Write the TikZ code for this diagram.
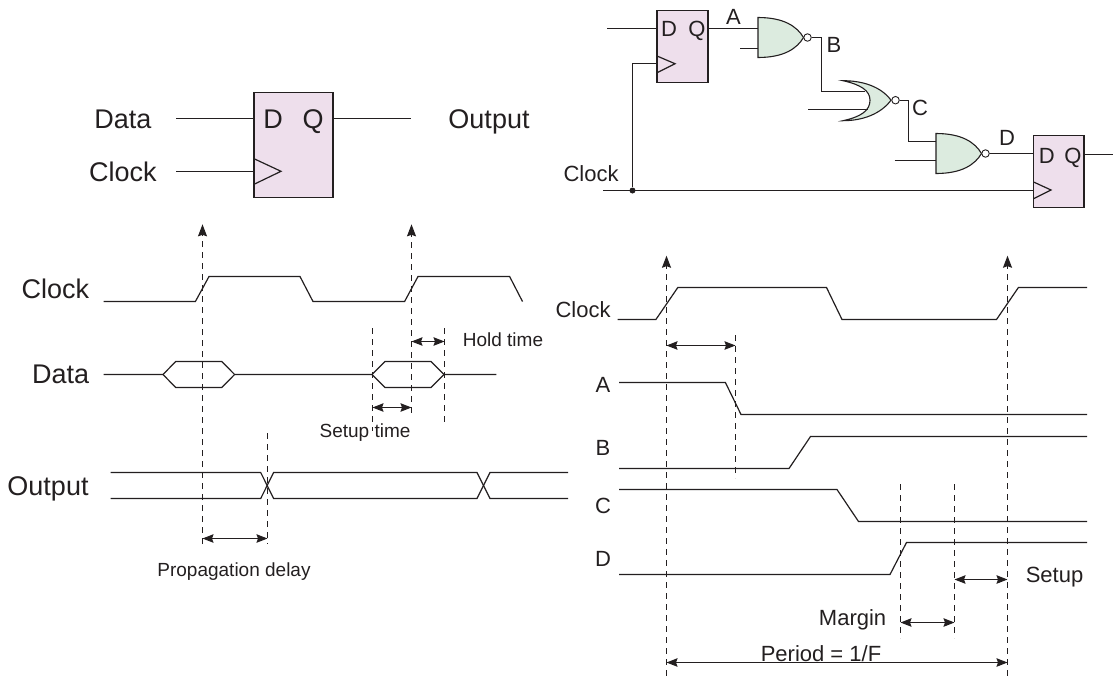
\documentclass[tikz,border=0pt]{standalone}
\usepackage{fontspec}
\setmainfont{Liberation Sans}
\usetikzlibrary{arrows.meta,calc}
\definecolor{ink}{HTML}{231F20}
\definecolor{cff}{HTML}{EEDFEC}
\definecolor{cgate}{HTML}{DCEBDF}
\begin{document}
\begin{tikzpicture}[x=1pt,y=-1pt,
  wire/.style={ink, line width=1.2pt, line join=miter},
  wave/.style={ink, line width=1.2pt, line join=miter},
  guide/.style={ink, line width=1.2pt, dash pattern=on 6pt off 5pt},
  guidetip/.style={guide, -{Stealth[length=12pt,width=9pt,inset=1.5pt]}},
  span/.style={ink, line width=1.2pt, {Stealth[length=11pt,width=8.5pt,inset=1.5pt]}-{Stealth[length=11pt,width=8.5pt,inset=1.5pt]}},
  ff/.style={draw=ink, fill=cff, line width=1.1pt, inner sep=0pt},
  gate/.style={draw=ink, fill=cgate, line width=1.1pt},
  bubble/.style={circle, draw=ink, fill=white, line width=0.9pt, inner sep=0pt, minimum size=7.5pt},
  big/.style={ink, anchor=base, font=\fontsize{27}{27}\selectfont, inner sep=0pt},
  mid/.style={ink, anchor=base, font=\fontsize{22}{22}\selectfont, inner sep=0pt},
  small/.style={ink, anchor=base, font=\fontsize{19}{19}\selectfont, inner sep=0pt},
  nandgate/.pic={
    \draw[gate] (0,0) .. controls (26,0) and (39,9) .. (45.5,20) .. controls (39,31) and (26,40) .. (0,40) -- cycle;
    \node[bubble] (-bub) at (49.5,20) {};
  },
  norgate/.pic={
    \draw[gate] (0,0) .. controls (20,0) and (38,6) .. (48,19.5) .. controls (38,33) and (20,40) .. (0,40) .. controls (18,36) and (27,30) .. (27,19.5) .. controls (27,10) and (18,4) .. (0,0) -- cycle;
    \node[bubble] (-bub) at (52.5,19.5) {};
  }
]
\useasboundingbox (0,0) rectangle (1115,678);

% left flip-flop
\node[ff, minimum width=79pt, minimum height=105pt] (ffl) at (293.5,145.2) {};
\node[big] (ffld) at (273,128) {D};
\node[big] (fflq) at (313,128) {Q};
\draw[wire] (254,158.7) -- (281,171.3) -- (254,184.3);
\node[big] (ldata) at (123,128.5) {Data};
\node[big] (lclock) at (123,181) {Clock};
\node[big] (lout) at (489,128.5) {Output};
\coordinate (ldatain) at (176,118.5);
\coordinate (lclkin) at (176,171.5);
\coordinate (loutend) at (411,118.5);
\draw[wire] (ldatain) -- (ldatain -| ffl.west);
\draw[wire] (lclkin) -- (lclkin -| ffl.west);
\draw[wire] (loutend -| ffl.east) -- (loutend);

% right circuit
\node[ff, minimum width=51pt, minimum height=71.6pt] (ffa) at (682.5,46.5) {};
\node[ff, minimum width=50.4pt, minimum height=71.6pt] (ffb) at (1058.8,171.5) {};
\node[mid] (ffad) at (669,36) {D};
\node[mid] (ffaq) at (697,36) {Q};
\node[mid] (ffbd) at (1046.7,163) {D};
\node[mid] (ffbq) at (1073,163) {Q};
\draw[wire] (657,56) -- (675,63.7) -- (657,72.7);
\draw[wire] (1033.6,182) -- (1051,190) -- (1033.6,198.7);
\pic (nanda) at (758,17.5) {nandgate};
\pic (nora) at (843,80.7) {norgate};
\pic (nandb) at (936,133.5) {nandgate};
\node[mid] (sa) at (733.5,24.5) {A};
\node[mid] (sb) at (834,52) {B};
\node[mid] (sc) at (920,115) {C};
\node[mid] (sd) at (1007,145) {D};
\node[mid] (sclk) at (591,181) {Clock};
\node[circle, fill=ink, inner sep=0pt, minimum size=6pt] (tap) at (632.5,190.5) {};
\coordinate (ain) at (607,28.5);
\coordinate (clkin) at (603,190.5);
\coordinate (qout) at (1113,154.5);
\draw[wire] (ain) -- (ain -| ffa.west);
\draw[wire] (ain -| ffa.east) -- (758,28.5);
\draw[wire] (740,48.5) -- ++(18,0);
\draw[wire] (nanda-bub.east) -- (821.5,37.5) -- (821.5,91.5) -- (865,91.5);
\draw[wire] (808,109.5) -- (868,109.5);
\draw[wire] (nora-bub.east) -- (908.5,100.2) -- (908.5,141.5) -- (936,141.5);
\draw[wire] (894.5,160.5) -- (936,160.5);
\draw[wire] (nandb-bub.east) -- (nandb-bub.east -| ffb.west);
\draw[wire] (qout -| ffb.east) -- (qout);
\draw[wire] (clkin) -- (clkin -| ffb.west);
\draw[wire] (tap) |- (657,63.5);

% left timing
\draw[wave] (103.6,301.5) -- (195.4,301.5) -- (209,276.5) -- (300,276.5) -- (313,301.5) -- (404.6,301.5) -- (418,276.5) -- (509.6,276.5) -- (522.5,301.5);
\draw[wave] (103.6,374.5) -- (163,374.5) -- (175.7,361.5) -- (221.8,361.5) -- (234.6,374.5) -- (372,374.5) -- (385,361.5) -- (431,361.5) -- (444,374.5) -- (496.4,374.5);
\draw[wave] (163,374.5) -- (175.7,387.5) -- (221.8,387.5) -- (234.6,374.5);
\draw[wave] (372,374.5) -- (385,387.5) -- (431,387.5) -- (444,374.5);
\draw[wave] (110.7,472.5) -- (260.7,472.5) -- (273.6,498.5) -- (477,498.5) -- (490,472.5) -- (568,472.5);
\draw[wave] (110.7,498.5) -- (260.7,498.5) -- (273.6,472.5) -- (477,472.5) -- (490,498.5) -- (568,498.5);
\node[big] (tclock) at (55.4,298.5) {Clock};
\node[big] (tdata) at (60.7,383.5) {Data};
\node[big] (toutput) at (48,495) {Output};
\coordinate (e1b) at (202.5,544);
\coordinate (e1t) at (202.5,224.3);
\coordinate (e2b) at (411.5,412.7);
\coordinate (e2t) at (411.5,224.3);
\draw[guidetip] (e1b) -- (e1t);
\draw[guidetip] (e2b) -- (e2t);
\draw[guide] (372.5,328) -- (372.5,431);
\draw[guide] (444.5,328) -- (444.5,426);
\draw[guide] (267.5,433) -- (267.5,544);
\draw[span] (411.5,341.5) -- (444.5,341.5);
\draw[span] (372.5,407.5) -- (411.5,407.5);
\draw[span] (202.5,538.5) -- (267.5,538.5);
\node[small] (thold) at (503,346.5) {Hold time};
\node[small] (tsetup) at (365,437.5) {Setup time};
\node[small] (tprop) at (234,576) {Propagation delay};

% right timing
\draw[wave] (617.6,319.5) -- (655.9,319.5) -- (677.8,287.5) -- (826.5,287.5) -- (842,319.5) -- (996.5,319.5) -- (1018.4,287.5) -- (1087,287.5);
\draw[wave] (619,382.5) -- (725.4,382.5) -- (741,414.5) -- (1087,414.5);
\draw[wave] (619,468.5) -- (789,468.5) -- (810.5,436.5) -- (1087,436.5);
\draw[wave] (619,489.5) -- (837,489.5) -- (858.5,521.5) -- (1087,521.5);
\draw[wave] (619,574.5) -- (890,574.5) -- (906.5,542.5) -- (1087,542.5);
\node[mid] (rclock) at (583,317) {Clock};
\node[mid] (ra) at (603,392) {A};
\node[mid] (rb) at (603,455) {B};
\node[mid] (rc) at (603,513) {C};
\node[mid] (rd) at (603,566) {D};
\coordinate (p1b) at (666.5,675.7);
\coordinate (p1t) at (666.5,255.7);
\coordinate (p2b) at (1007.5,675.7);
\coordinate (p2t) at (1007.5,255.7);
\draw[guidetip] (p1b) -- (p1t);
\draw[guidetip] (p2b) -- (p2t);
\draw[guide] (735.5,335) -- (735.5,478);
\draw[guide] (900.5,484) -- (900.5,638);
\draw[guide] (954.5,484) -- (954.5,638);
\draw[span] (666.5,345.5) -- (735.5,345.5);
\draw[span] (954.5,579.5) -- (1007.5,579.5);
\draw[span] (900.5,622.5) -- (954.5,622.5);
\draw[span] (666.5,662.5) -- (1007.5,662.5);
\node[mid] (rsetup) at (1054.5,582) {Setup};
\node[mid] (rmargin) at (852.6,625) {Margin};
\node[mid] (rperiod) at (821,661) {Period = 1/F};
\end{tikzpicture}
\end{document}
